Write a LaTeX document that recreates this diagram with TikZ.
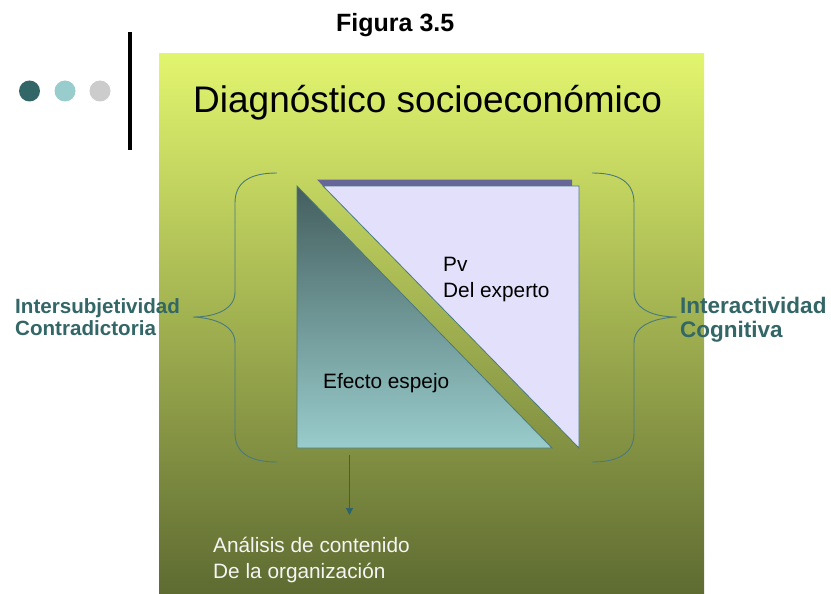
\documentclass[tikz,border=0pt]{standalone}
\usepackage{fontspec}
\setmainfont{Liberation Sans}
\usetikzlibrary{arrows.meta}
\definecolor{panelTop}{RGB}{226,245,110}
\definecolor{panelMid}{RGB}{180,197,86}
\definecolor{panelBot}{RGB}{94,107,50}
\definecolor{triDark}{RGB}{68,94,94}
\definecolor{triLight}{RGB}{153,204,204}
\definecolor{lavender}{RGB}{227,224,251}
\definecolor{shadowPurple}{RGB}{102,102,153}
\definecolor{edgeTeal}{RGB}{74,122,124}
\definecolor{labelTeal}{RGB}{51,102,102}
\definecolor{arrowTeal}{RGB}{45,100,105}
\definecolor{dotA}{RGB}{51,102,102}
\definecolor{dotB}{RGB}{153,204,204}
\definecolor{dotC}{RGB}{204,204,204}
\definecolor{softWhite}{RGB}{245,245,245}
\tikzset{
  dotnode/.style={circle, minimum size=21pt, inner sep=0pt, draw=none},
  bracestyle/.style={draw=edgeTeal, line width=0.9pt},
  sidelabel/.style={anchor=base west, inner sep=0pt, align=left, text=labelTeal},
  innerlabel/.style={anchor=base west, inner sep=0pt, align=left, font=\fontsize{20.8}{25.5}\selectfont},
  triedge/.style={draw=edgeTeal, line width=0.8pt},
}
\begin{document}
\begin{tikzpicture}[x=1pt, y=-1pt]
\useasboundingbox (0,0) rectangle (831,594);
\fill[white] (0,0) rectangle (831,594);
% panel
\shade[top color=panelTop, middle color=panelMid, bottom color=panelBot] (159,54) rectangle (704,594);
% title above
\node[anchor=base west, inner sep=0pt, font=\bfseries\fontsize{25}{28}\selectfont] (fig) at (336,32) {Figura 3.5};
% dots and bar
\node[dotnode, fill=dotA] (d1) at (29.5,91) {};
\node[dotnode, fill=dotB] (d2) at (65,91) {};
\node[dotnode, fill=dotC] (d3) at (100,91) {};
\draw[line width=3.3pt] (130,32) -- (130,150);
% title
\node[anchor=base west, inner sep=0pt, font=\fontsize{37}{44}\selectfont] (title) at (193,113) {Diagnóstico socioeconómico};
% left triangle
\shade[top color=triDark, bottom color=triLight] (297,186) -- (297,448) -- (552,448) -- cycle;
\draw[triedge] (297,186) -- (297,448) -- (552,448) -- cycle;
% right triangle with top shadow strip
\fill[shadowPurple] (317,179.5) -- (572,179.5) -- (572,186) -- (323,186) -- cycle;
\fill[lavender] (323,186) -- (579,186) -- (579,448) -- cycle;
\draw[triedge] (323,186) -- (579,186) -- (579,448) -- cycle;
% inner labels (base = last line)
\node[innerlabel] (pv) at (443,297) {Pv\\Del experto};
\node[innerlabel] (mirror) at (323,388) {Efecto espejo};
% braces
\draw[bracestyle] (277,173) .. controls (250,173) and (235,182) .. (235,203) -- (235,292)
  .. controls (235,309) and (216,317) .. (193,317)
  .. controls (216,318) and (235,326) .. (235,343) -- (235,433)
  .. controls (235,453) and (250,462) .. (277,462);
\draw[bracestyle] (592,173) .. controls (619,173) and (634,182) .. (634,203) -- (634,292)
  .. controls (634,309) and (653,317) .. (677,317)
  .. controls (653,318) and (634,326) .. (634,343) -- (634,433)
  .. controls (634,453) and (619,462) .. (592,462);
% side labels
\node[sidelabel, font=\bfseries\fontsize{20.6}{22.5}\selectfont] (left) at (15,335.5) {Intersubjetividad\\Contradictoria};
\node[sidelabel, font=\bfseries\fontsize{22.5}{24.5}\selectfont] (right) at (680,337.5) {Interactividad\\Cognitiva};
% arrow
\coordinate (arrS) at (349.5,455);
\coordinate (arrE) at (349.5,515);
\draw[draw=arrowTeal, line width=1.1pt, -{Triangle[length=7pt,width=7pt,fill=arrowTeal]}] (arrS) -- (arrE);
% bottom label
\node[innerlabel, text=softWhite] (bottom) at (213,578) {Análisis de contenido\\De la organización};
\end{tikzpicture}
\end{document}
